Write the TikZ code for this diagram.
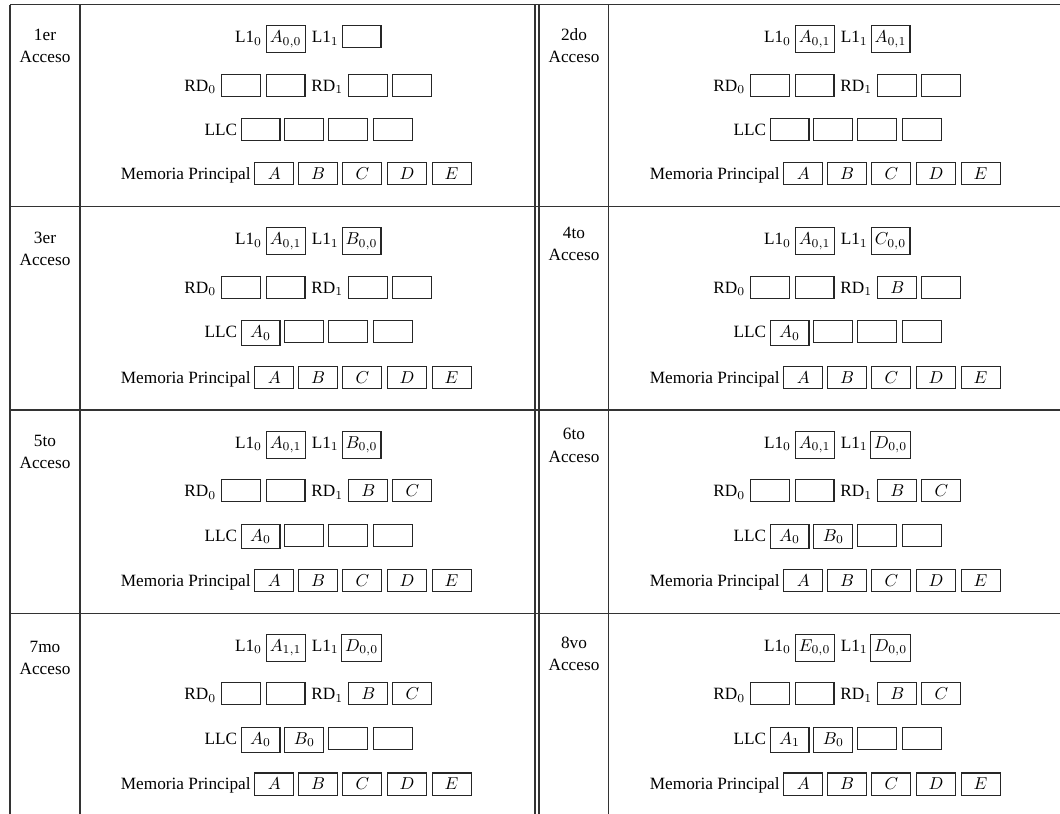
\documentclass[tikz,border=0pt]{standalone}
\usepackage{fontspec}
\setmainfont{Liberation Serif}
\begin{document}
\begin{tikzpicture}[x=0.58pt,y=-0.58pt,
  rule/.style={draw=black!80,line width=0.6pt},
  cellbox/.style={draw=black!85,line width=0.6pt,inner xsep=2pt,inner ysep=3pt,
    minimum width=22.6pt,text height=6.8pt,anchor=base,font=\fontsize{10}{12}\selectfont},
  lbl/.style={inner sep=0pt,anchor=base east,font=\fontsize{10}{12}\selectfont},
  acc/.style={inner sep=0pt,anchor=base,font=\fontsize{10}{12}\selectfont}]
\useasboundingbox (0,0) rectangle (1060,814);
% table rules
\draw[rule] (10,4.7) -- (1060,4.7);
\foreach \yy in {206.7,410,613.3}{\draw[rule] (10,\yy) -- (1060,\yy);}
\foreach \xx in {10,80,535,539,608.5}{\draw[rule] (\xx,4.7) -- (\xx,814);}
% cells
\foreach \n/\ox/\T/\ac/\ya/\yb/\mm/\la/\lb/\ra/\rb/\ca/\cb in {
 1/0/4.7/1er/35.5/57.5/174.5/{$A_{0,0}$}/{}/{}/{}/{}/{},
 2/529/4.7/2do/36/58/174.5/{$A_{0,1}$}/{$A_{0,1}$}/{}/{}/{}/{},
 3/0/206.7/3er/36.6/58.6/176.8/{$A_{0,1}$}/{$B_{0,0}$}/{}/{}/{$A_0$}/{},
 4/529/206.7/4to/31.6/53.3/176.8/{$A_{0,1}$}/{$C_{0,0}$}/{$B$}/{}/{$A_0$}/{},
 5/0/410/5to/36.7/58.7/176.8/{$A_{0,1}$}/{$B_{0,0}$}/{$B$}/{$C$}/{$A_0$}/{},
 6/529/410/6to/29.3/52.7/176.8/{$A_{0,1}$}/{$D_{0,0}$}/{$B$}/{$C$}/{$A_0$}/{$B_0$},
 7/0/613.3/7mo/39.5/61/176.6/{$A_{1,1}$}/{$D_{0,0}$}/{$B$}/{$C$}/{$A_0$}/{$B_0$},
 8/529/613.3/8vo/35/57/176.6/{$E_{0,0}$}/{$D_{0,0}$}/{$B$}/{$C$}/{$A_1$}/{$B_0$}}{
  \node[acc] (c\n-t1) at ({\ox+45},{\T+\ya}) {\ac};
  \node[acc] (c\n-t2) at ({\ox+45},{\T+\yb}) {Acceso};
  % L1 row
  \node[lbl] (c\n-l10) at ({\ox+262.3},{\T+38}) {L1$_0$};
  \node[cellbox] (c\n-b10) at ({\ox+285.6},{\T+38}) {\la};
  \node[lbl] (c\n-l11) at ({\ox+339},{\T+38}) {L1$_1$};
  \node[cellbox] (c\n-b11) at ({\ox+361.5},{\T+38}) {\lb};
  % RD row
  \node[lbl] (c\n-r0) at ({\ox+216.5},{\T+86.5}) {RD$_0$};
  \node[cellbox] (c\n-r0a) at ({\ox+241},{\T+86.5}) {};
  \node[cellbox] (c\n-r0b) at ({\ox+285.5},{\T+86.5}) {};
  \node[lbl] (c\n-r1) at ({\ox+343.5},{\T+86.5}) {RD$_1$};
  \node[cellbox] (c\n-r1a) at ({\ox+368.4},{\T+86.5}) {\ra};
  \node[cellbox] (c\n-r1b) at ({\ox+412.4},{\T+86.5}) {\rb};
  % LLC row
  \node[lbl] (c\n-llc) at ({\ox+237.5},{\T+131}) {LLC};
  \node[cellbox] (c\n-c1) at ({\ox+260.5},{\T+131}) {\ca};
  \node[cellbox] (c\n-c2) at ({\ox+304.4},{\T+131}) {\cb};
  \node[cellbox] (c\n-c3) at ({\ox+348.4},{\T+131}) {};
  \node[cellbox] (c\n-c4) at ({\ox+393},{\T+131}) {};
  % main memory row
  \node[lbl] (c\n-mp) at ({\ox+251},{\T+\mm}) {Memoria Principal};
  \node[cellbox] (c\n-m1) at ({\ox+274.3},{\T+\mm}) {$A$};
  \node[cellbox] (c\n-m2) at ({\ox+318.2},{\T+\mm}) {$B$};
  \node[cellbox] (c\n-m3) at ({\ox+362.4},{\T+\mm}) {$C$};
  \node[cellbox] (c\n-m4) at ({\ox+406.9},{\T+\mm}) {$D$};
  \node[cellbox] (c\n-m5) at ({\ox+451.6},{\T+\mm}) {$E$};
}
\end{tikzpicture}
\end{document}
